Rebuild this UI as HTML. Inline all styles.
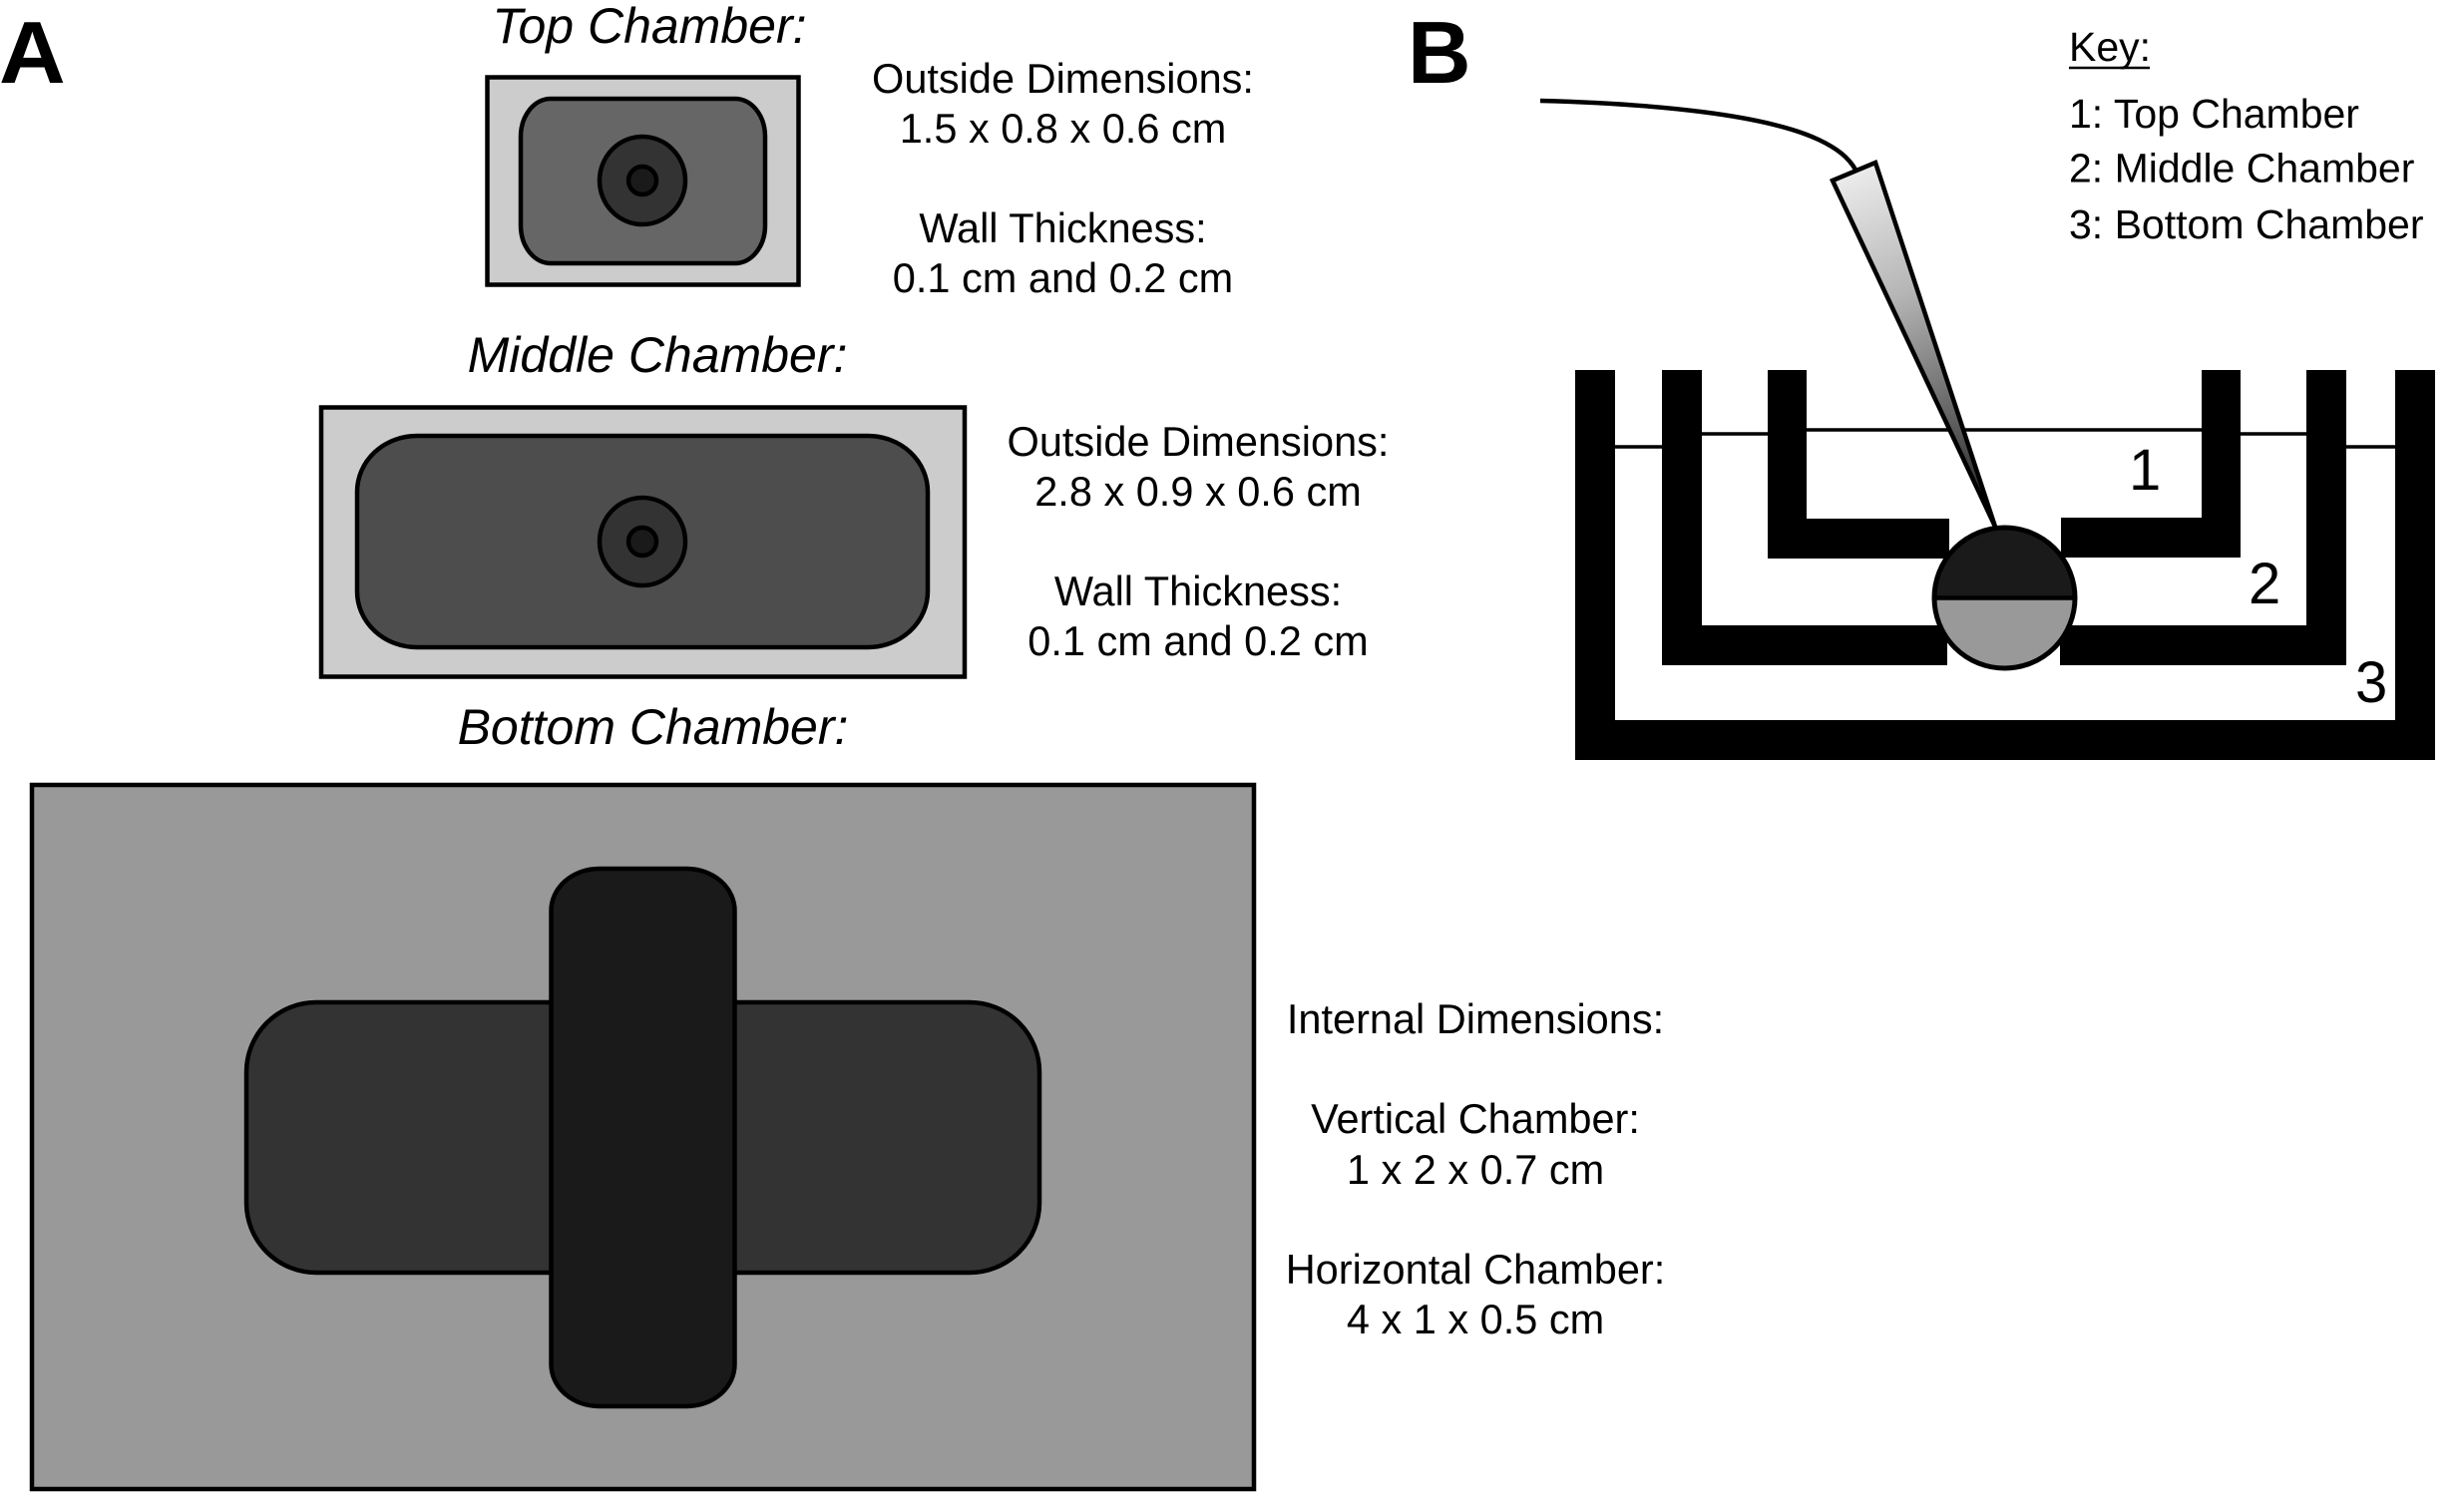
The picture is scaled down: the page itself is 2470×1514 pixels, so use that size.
<!DOCTYPE html>
<html>
<head>
<meta charset="utf-8">
<style>
html,body{margin:0;padding:0;background:#fff;width:2470px;height:1514px;overflow:hidden}
svg{display:block}
text{font-family:"Liberation Sans",Arial,sans-serif;fill:#000}
.t{font-size:41.5px;text-anchor:middle}
.k{font-size:41px}
.h{font-size:50px;font-style:italic;text-anchor:middle}
.l{font-size:88px;font-weight:bold}
.n{font-size:58px}
</style>
</head>
<body>
<svg xmlns="http://www.w3.org/2000/svg" width="2470" height="1514" viewBox="0 0 2470 1514">
<defs>
<linearGradient id="g" gradientUnits="userSpaceOnUse" x1="1859" y1="170" x2="2000" y2="526">
<stop offset="0" stop-color="#ececec"/>
<stop offset="0.35" stop-color="#b5b5b5"/>
<stop offset="0.75" stop-color="#555"/>
<stop offset="1" stop-color="#111"/>
</linearGradient>
</defs>
<rect width="2470" height="1514" fill="#fff"/>

<text class="l" x="0" y="83" transform="translate(-1 0) scale(1.05 1)">A</text>
<text class="l" x="1411" y="83">B</text>

<!-- Top chamber -->
<text class="h" x="651" y="43">Top Chamber:</text>
<rect x="488.500" y="77.500" width="312" height="208" fill="#ccc" stroke="#000" stroke-width="4.500"/>
<rect x="522" y="99" width="245" height="165" rx="30" ry="38" fill="#666" stroke="#000" stroke-width="4.500"/>
<ellipse cx="644" cy="181" rx="43" ry="44" fill="#333" stroke="#000" stroke-width="4.500"/>
<circle cx="644" cy="181" r="14" fill="#1a1a1a" stroke="#000" stroke-width="4.500"/>
<text class="t" x="1065.500" y="93">Outside Dimensions:</text>
<text class="t" x="1065.500" y="143">1.5 x 0.8 x 0.6 cm</text>
<text class="t" x="1065.500" y="243">Wall Thickness:</text>
<text class="t" x="1065.500" y="293">0.1 cm and 0.2 cm</text>

<!-- Middle chamber -->
<text class="h" x="659" y="373">Middle Chamber:</text>
<rect x="322" y="408.500" width="645" height="270" fill="#ccc" stroke="#000" stroke-width="4.500"/>
<rect x="358" y="437" width="572" height="212" rx="60" ry="56" fill="#4d4d4d" stroke="#000" stroke-width="4.500"/>
<ellipse cx="644" cy="543" rx="43" ry="44" fill="#333" stroke="#000" stroke-width="4.500"/>
<circle cx="644" cy="543" r="14" fill="#1a1a1a" stroke="#000" stroke-width="4.500"/>
<text class="t" x="1201" y="457">Outside Dimensions:</text>
<text class="t" x="1201" y="507">2.8 x 0.9 x 0.6 cm</text>
<text class="t" x="1201" y="607">Wall Thickness:</text>
<text class="t" x="1201" y="657">0.1 cm and 0.2 cm</text>

<!-- Bottom chamber -->
<text class="h" x="654.500" y="746">Bottom Chamber:</text>
<rect x="32" y="787" width="1225" height="706" fill="#999" stroke="#000" stroke-width="4.500"/>
<rect x="247" y="1005" width="795" height="271" rx="70" ry="70" fill="#333" stroke="#000" stroke-width="4.500"/>
<rect x="552.500" y="871" width="184" height="539" rx="48" ry="42" fill="#1a1a1a" stroke="#000" stroke-width="4.500"/>
<text class="t" x="1479" y="1036">Internal Dimensions:</text>
<text class="t" x="1479" y="1136">Vertical Chamber:</text>
<text class="t" x="1479" y="1187">1 x 2 x 0.7 cm</text>
<text class="t" x="1479" y="1287">Horizontal Chamber:</text>
<text class="t" x="1479" y="1337">4 x 1 x 0.5 cm</text>

<!-- Panel B key -->
<text class="k" x="2074" y="61">Key:</text>
<line x1="2074" y1="68" x2="2155" y2="68" stroke="#000" stroke-width="2.500"/>
<text class="k" x="2074" y="128">1: Top Chamber</text>
<text class="k" x="2074" y="182.500">2: Middle Chamber</text>
<text class="k" x="2074" y="239">3: Bottom Chamber</text>

<!-- Water lines -->
<g stroke="#000" stroke-width="3.500">
<line x1="1619" y1="448" x2="1666" y2="448"/>
<line x1="2352" y1="448" x2="2401" y2="448"/>
<line x1="1706" y1="435" x2="1772" y2="435"/>
<line x1="2246" y1="435" x2="2312" y2="435"/>
<line x1="1811" y1="431" x2="2207" y2="431"/>
</g>

<!-- Walls -->
<g fill="#000">
<path d="M1579 371H1619V722H2401V371H2441V762H1579Z"/>
<path d="M1666 371H1706V627H1952V667H1666Z"/>
<path d="M2065 627H2312V371H2352V667H2065Z"/>
<path d="M1772 371H1811V520H1954V560H1772Z"/>
<path d="M2066 519H2207V371H2246V559H2066Z"/>
</g>

<!-- Wire -->
<path d="M1544 101C1660 104 1770 115 1823 140C1842 149 1853 158 1860 170" fill="none" stroke="#000" stroke-width="4.500"/>

<!-- Pipette -->
<polygon points="1837,181 1880,163 2000,528" fill="url(#g)" stroke="#000" stroke-width="4.500" stroke-linejoin="miter"/>

<!-- Ball -->
<circle cx="2009.500" cy="599.500" r="70.500" fill="#fff"/>
<path d="M1939 599.500A70.500 70.500 0 0 1 2080 599.500Z" fill="#1a1a1a"/>
<path d="M1939 599.500A70.500 70.500 0 0 0 2080 599.500Z" fill="#999"/>
<circle cx="2009.500" cy="599.500" r="70.500" fill="none" stroke="#000" stroke-width="5"/>
<line x1="1939" y1="599.500" x2="2080" y2="599.500" stroke="#000" stroke-width="4.500"/>

<!-- Numbers -->
<text class="n" x="2134" y="491">1</text>
<text class="n" x="2254" y="605">2</text>
<text class="n" x="2361" y="704">3</text>
</svg>
</body>
</html>
